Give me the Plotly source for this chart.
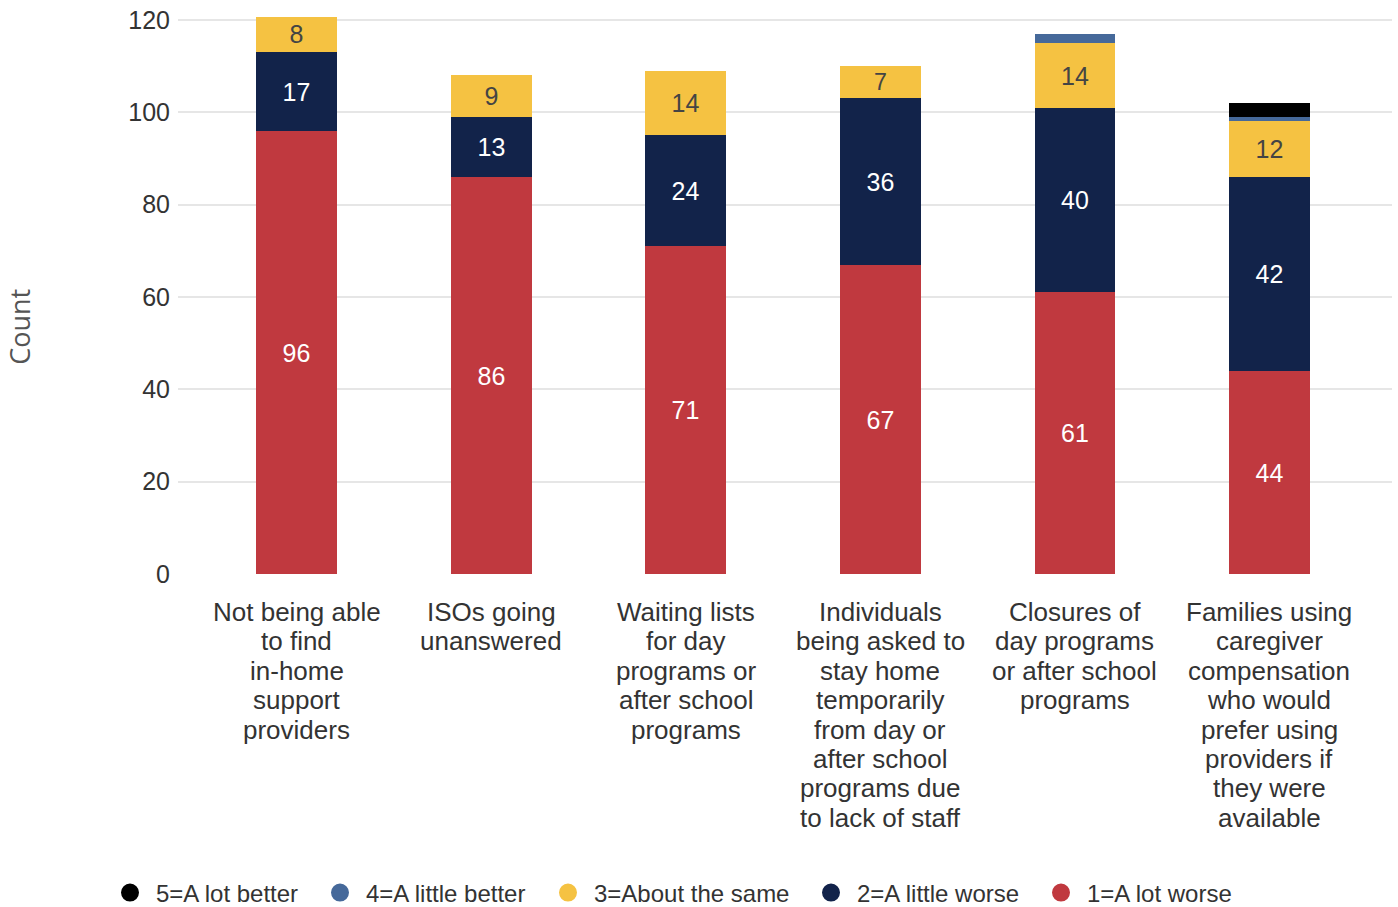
import plotly.graph_objects as go

categories = [
    "Not being able<br>to find<br>in-home<br>support<br>providers",
    "ISOs going<br>unanswered",
    "Waiting lists<br>for day<br>programs or<br>after school<br>programs",
    "Individuals<br>being asked to<br>stay home<br>temporarily<br>from day or<br>after school<br>programs due<br>to lack of staff",
    "Closures of<br>day programs<br>or after school<br>programs",
    "Families using<br>caregiver<br>compensation<br>who would<br>prefer using<br>providers if<br>they were<br>available",
]

a_lot_worse = [96, 86, 71, 67, 61, 44]
a_little_worse = [17, 13, 24, 36, 40, 42]
about_same = [8, 9, 14, 7, 14, 12]
a_little_better = [0, 0, 0, 0, 2, 1]
a_lot_better = [0, 0, 0, 0, 0, 3]

series = [
    ("1=A lot worse", a_lot_worse, "#C0393F", "white", True),
    ("2=A little worse", a_little_worse, "#12234A", "white", True),
    ("3=About the same", about_same, "#F5C242", "#444444", True),
    ("4=A little better", a_little_better, "#46699A", "white", False),
    ("5=A lot better", a_lot_better, "#000000", "white", False),
]

FONT = "Liberation Sans, Arial, sans-serif"
x_idx = list(range(len(categories)))

TOP = 13
BOTTOM = 333
PLOT_H = 907 - TOP - BOTTOM

fig = go.Figure()
for name, vals, color, tcolor, labelled in series:
    fig.add_trace(go.Bar(
        x=x_idx, y=vals, name=name,
        marker=dict(color=color, line=dict(width=0)),
        width=0.415,
        text=[str(v) if (labelled and v > 0) else "" for v in vals],
        textposition="inside", insidetextanchor="middle",
        textfont=dict(color=tcolor, size=25, family=FONT),
        textangle=0,
        showlegend=False, hoverinfo="name+y",
    ))

# one legend box per entry so each can be spaced freely along the bottom
legend_left_px = [104, 314, 542, 805, 1035]
legend_layout = {}
for k, (name, vals, color, tcolor, labelled) in enumerate(reversed(series)):
    key = "legend" if k == 0 else f"legend{k + 1}"
    fig.add_trace(go.Scatter(
        x=[None], y=[None], mode="markers", name=name,
        marker=dict(symbol="circle", size=18, color=color,
                    line=dict(color=color, width=2)),
        showlegend=True, legend=key,
    ))
    legend_layout[key] = dict(
        orientation="h", xref="container", yref="container",
        x=legend_left_px[k] / 1398, xanchor="left",
        y=(907 - 893) / 907, yanchor="middle",
        font=dict(size=24, color="#333333", family=FONT),
        itemwidth=42, bgcolor="rgba(0,0,0,0)",
    )

# category labels, line by line for tighter leading
annotations = []
for i, label in enumerate(categories):
    for j, line in enumerate(label.split("<br>")):
        annotations.append(dict(
            x=i, xref="x", y=0, yref="paper",
            text=line, showarrow=False,
            xanchor="center", yanchor="middle",
            yshift=-(38 + j * 29.4),
            font=dict(size=26, color="#333333", family=FONT),
        ))

# y-axis title
annotations.append(dict(
    x=(20 - 178) / 1214, xref="paper",
    y=(574 - 325) / PLOT_H, yref="paper",
    text="Count", showarrow=False, textangle=-90,
    xanchor="center", yanchor="middle",
    font=dict(size=27, color="#555555", family="Open Sans, sans-serif"),
))

fig.update_layout(
    barmode="stack",
    width=1398, height=907,
    margin=dict(l=178, r=6, t=TOP, b=BOTTOM),
    plot_bgcolor="white", paper_bgcolor="white",
    font=dict(family=FONT, color="#333333", size=22),
    xaxis=dict(
        tickmode="array", tickvals=x_idx, ticktext=[""] * len(x_idx),
        range=[-0.61, 5.63], showgrid=False, zeroline=False,
        ticks="", showticklabels=True,
    ),
    yaxis=dict(
        range=[0, 120.6], tickvals=[0, 20, 40, 60, 80, 100, 120],
        showgrid=True, gridcolor="#E6E6E6",
        gridwidth=2, zeroline=False,
        tickfont=dict(size=25, color="#333333"),
        ticks="outside", ticklen=2, tickcolor="rgba(0,0,0,0)",
    ),
    annotations=annotations,
    bargap=0.0,
    **legend_layout,
)

fig.write_html("out.html")
